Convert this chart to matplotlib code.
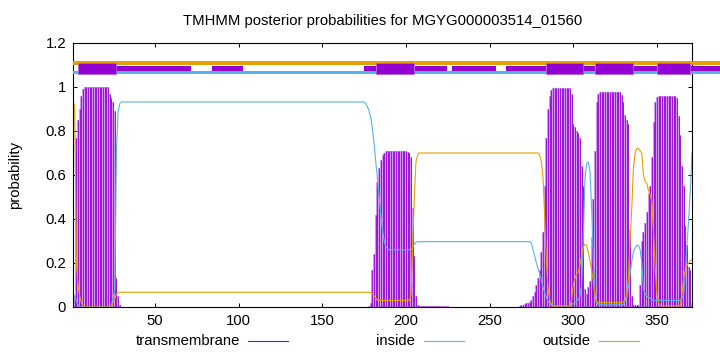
import matplotlib
matplotlib.use("Agg")
import matplotlib.pyplot as plt
from matplotlib.patches import Rectangle
from matplotlib.lines import Line2D
import numpy as np

plt.rcParams['font.family'] = ['Liberation Sans', 'DejaVu Sans']

title = "TMHMM posterior probabilities for MGYG000003514_01560"
ylabel = "probability"
series_names = ["transmembrane", "inside", "outside"]
xticks = [50, 100, 150, 200, 250, 300, 350]
yticks = [0, 0.2, 0.4, 0.6, 0.8, 1.0, 1.2]
ytick_labels = ["0", "0.2", "0.4", "0.6", "0.8", "1", "1.2"]
seq_len = 371

# transmembrane posterior per residue (1..371)
tm = ([0.02, 0.05, 0.77, 0.85, 0.90, 0.96, 0.99] + [1.0] * 15 +
      [0.97, 0.95, 0.93, 0.89, 0.13, 0.05, 0.01] + [0.0] * 148 +
      [0.005, 0.02, 0.17, 0.24, 0.42, 0.57, 0.63, 0.67, 0.69, 0.70] + [0.71] * 13 +
      [0.705, 0.70, 0.68, 0.45, 0.23, 0.05, 0.01] + [0.005] * 18 + [0.002] * 42 +
      [0.005, 0.01, 0.01, 0.015, 0.02, 0.02, 0.025, 0.03, 0.05, 0.07, 0.10, 0.13,
       0.17, 0.25, 0.34, 0.55, 0.77, 0.90, 0.96, 0.985] + [0.995] * 11 +
      [0.97, 0.83, 0.82, 0.80, 0.79, 0.77, 0.64, 0.55, 0.08, 0.06, 0.09, 0.12,
       0.32, 0.49, 0.71, 0.93, 0.97] + [0.976] * 13 +
      [0.965, 0.93, 0.875, 0.85, 0.83, 0.35, 0.05] + [0.01] * 4 +
      [0.10, 0.30, 0.34, 0.38, 0.43, 0.52, 0.55, 0.68, 0.84, 0.93, 0.955] + [0.96] * 11 +
      [0.95, 0.87, 0.78, 0.64, 0.55, 0.37, 0.28, 0.18, 0.17, 0.02])

inside = ([0.06, 0.05, 0.03, 0.01] + [0.0] * 19 +
          [0.01, 0.04, 0.08, 0.72, 0.89, 0.925] + [0.932] * 146 +
          [0.925, 0.91, 0.89, 0.86, 0.81, 0.74, 0.66, 0.58, 0.50, 0.42, 0.35, 0.30,
           0.275, 0.265] + [0.26] * 14 + [0.27, 0.285, 0.295] + [0.297] * 68 +
          [0.29, 0.26, 0.23, 0.20, 0.175, 0.15, 0.12, 0.09, 0.065, 0.04, 0.025,
           0.015, 0.008] + [0.005] * 11 +
          [0.01, 0.015, 0.02, 0.025, 0.035, 0.05, 0.10, 0.30, 0.58, 0.65, 0.66,
           0.62, 0.45, 0.22, 0.05, 0.02] + [0.01] * 16 +
          [0.03, 0.045, 0.09, 0.15, 0.21, 0.25, 0.27, 0.28, 0.28, 0.26, 0.20, 0.08,
           0.06, 0.05, 0.045, 0.04, 0.035, 0.03, 0.03] + [0.03] * 15 +
          [0.04, 0.06, 0.15, 0.28, 0.40, 0.53, 0.70])

outside = ([0.93, 0.92, 0.20, 0.10, 0.05, 0.02, 0.005] + [0.0] * 16 +
           [0.005, 0.02, 0.04, 0.06, 0.066] + [0.067] * 150 +
           [0.065, 0.06, 0.05, 0.04] + [0.03] * 20 +
           [0.05, 0.28, 0.49, 0.66, 0.69] + [0.70] * 72 +
           [0.69, 0.66, 0.58, 0.40, 0.20, 0.08, 0.03, 0.01] + [0.0] * 11 +
           [0.03, 0.10, 0.13, 0.15, 0.16, 0.19, 0.23, 0.27, 0.285, 0.28, 0.25, 0.21,
            0.17, 0.12, 0.05, 0.025] + [0.02] * 15 +
           [0.025, 0.03, 0.06, 0.13, 0.30, 0.45, 0.635, 0.70, 0.72, 0.72, 0.71, 0.70,
            0.60, 0.57, 0.56, 0.53, 0.51, 0.48, 0.34, 0.18, 0.06, 0.02] + [0.005] * 13 +
           [0.06, 0.13, 0.17, 0.19, 0.20, 0.21, 0.215])

# predicted topology band at the top
topo_tm = [(4.2, 26.7), (181.9, 204.6), (283.7, 305.9), (313.0, 335.5), (350.3, 369.9)]
topo_thin = [(26.7, 71.3), (83.9, 102.8), (175.0, 181.9), (205.4, 224.5), (227.7, 253.7),
             (259.8, 283.7), (305.9, 313.0), (335.5, 350.3), (369.9, 388.0)]

c_tm = "#9400D3"
c_tm_light = "#CE8CEC"
c_in = "#56B4E9"
c_out = "#E69F00"

residues = np.arange(1, seq_len + 1)

fig = plt.figure(figsize=(7.2, 3.52), dpi=100)
ax = fig.add_axes([73 / 720, 1 - 307 / 352, (692 - 73) / 720, (307 - 43) / 352])

ax.vlines(residues, 0, tm, colors=c_tm_light, linewidth=1.3)
ax.vlines(residues, 0, tm, colors=c_tm, linewidth=0.6)
ax.plot(residues, inside, color=c_in, linewidth=0.8)
ax.plot(residues, outside, color=c_out, linewidth=0.8)

# top band
ax.add_patch(Rectangle((1, 1.061), 387, 0.011, facecolor=c_in, edgecolor='none', clip_on=False, zorder=3))
ax.add_patch(Rectangle((1, 1.098), 387, 0.018, facecolor=c_out, edgecolor='none', clip_on=False, zorder=3))
for a, b in topo_thin:
    ax.add_patch(Rectangle((a, 1.073), b - a, 0.023, facecolor=c_tm, edgecolor='none',
                           clip_on=False, zorder=4))
for a, b in topo_tm:
    ax.add_patch(Rectangle((a, 1.06), b - a, 0.05, facecolor=c_tm, edgecolor='#B060E0',
                           linewidth=0.5, clip_on=False, zorder=5))

ax.set_xlim(1, seq_len)
ax.set_ylim(0, 1.2)
ax.set_xticks(xticks)
ax.set_xticklabels([str(v) for v in xticks])
ax.set_yticks(yticks)
ax.set_yticklabels(ytick_labels)
ax.tick_params(direction='in', length=3, width=0.7, top=True, right=True,
               labelsize=10.7, pad=5)
for sp in ax.spines.values():
    sp.set_linewidth(0.8)
ax.set_ylabel(ylabel, fontsize=10.7, labelpad=17)
ax.set_title(title, fontsize=10.7, pad=13)

# legend row (gnuplot style)
ly = 1 - 341 / 352
entries = [(series_names[0], 240, 248, 288, c_tm),
           (series_names[1], 415, 424, 464, c_in),
           (series_names[2], 590, 599, 639, c_out)]
for name, tx, l0, l1, col in entries:
    fig.text(tx / 720, ly, name, ha='right', va='center', fontsize=10.7)
    fig.add_artist(Line2D([l0 / 720, l1 / 720], [ly, ly], color=col, linewidth=0.8))

fig.savefig("out.png", dpi=100)
